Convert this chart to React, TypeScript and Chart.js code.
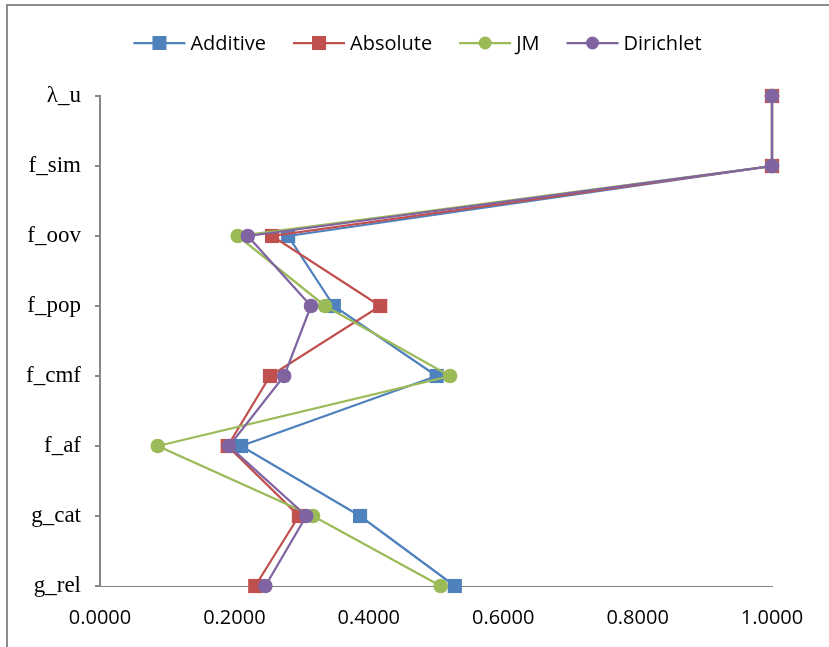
import React, { useEffect, useRef } from 'react';
import { Chart, registerables } from 'chart.js';

Chart.register(...registerables);

const categories = ['λ_u', 'f_sim', 'f_oov', 'f_pop', 'f_cmf', 'f_af', 'g_cat', 'g_rel'];
const additive = [1.0, 1.0, 0.28, 0.348, 0.501, 0.21, 0.387, 0.528];
const absolute = [1.0, 1.0, 0.256, 0.417, 0.253, 0.19, 0.296, 0.231];
const jm = [1.0, 1.0, 0.205, 0.335, 0.521, 0.086, 0.317, 0.507];
const dirichlet = [1.0, 1.0, 0.22, 0.314, 0.274, 0.192, 0.307, 0.246];
const xTicks = [0, 0.2, 0.4, 0.6, 0.8, 1.0];

const seriesNames = ['Additive', 'Absolute', 'JM', 'Dirichlet'];
const seriesColors = ['#4F81BD', '#C0504D', '#9BBB59', '#8064A2'];
const seriesShapes = ['rect', 'rect', 'circle', 'circle'];

const LEGEND_FONT = "20px 'Open Sans'";

const legendPlugin = {
  id: 'excelLegend',
  afterDraw(chart: any) {
    const ctx = chart.ctx;
    ctx.save();
    ctx.font = LEGEND_FONT;
    const lineLen = 52;
    const textGap = 5;
    const itemGap = 27;
    const datasets = chart.data.datasets;
    const widths = datasets.map((d: any) => ctx.measureText(d.label).width);
    let total = 0;
    widths.forEach((w: number, i: number) => {
      total += lineLen + textGap + w + (i < widths.length - 1 ? itemGap : 0);
    });
    let x = 417.5 - total / 2;
    const y = 43;
    datasets.forEach((d: any, i: number) => {
      const color = d.borderColor;
      ctx.strokeStyle = color;
      ctx.lineWidth = 2.25;
      ctx.beginPath();
      ctx.moveTo(x, y);
      ctx.lineTo(x + lineLen, y);
      ctx.stroke();
      ctx.fillStyle = color;
      const cx = x + lineLen / 2;
      if (d.pointStyle === 'rect') {
        ctx.fillRect(cx - 7, y - 7, 14, 14);
      } else {
        ctx.beginPath();
        ctx.arc(cx, y, 6.5, 0, Math.PI * 2);
        ctx.fill();
      }
      ctx.fillStyle = '#000';
      ctx.textBaseline = 'middle';
      ctx.textAlign = 'left';
      ctx.fillText(d.label, x + lineLen + textGap, y + 1);
      x += lineLen + textGap + widths[i] + itemGap;
    });
    ctx.restore();
  },
};

export default function App() {
  const canvasRef = useRef<HTMLCanvasElement | null>(null);

  useEffect(() => {
    const canvas = canvasRef.current;
    if (!canvas) return;
    const values = [additive, absolute, jm, dirichlet];
    const chart = new Chart(canvas, {
      type: 'line',
      data: {
        labels: categories,
        datasets: values.map((vals, i) => ({
          label: seriesNames[i],
          data: vals,
          borderColor: seriesColors[i],
          backgroundColor: seriesColors[i],
          borderWidth: 2.25,
          pointStyle: seriesShapes[i],
          pointRadius: seriesShapes[i] === 'rect' ? 10 : 7.3,
          pointBorderWidth: 0,
          pointBackgroundColor: seriesColors[i],
          pointBorderColor: seriesColors[i],
          tension: 0,
          clip: false,
          order: values.length - 1 - i,
        })),
      },
      options: {
        indexAxis: 'y',
        responsive: false,
        animation: false,
        devicePixelRatio: 1,
        layout: { padding: { top: 96, right: 57, bottom: 0, left: 0 } },
        plugins: {
          legend: { display: false },
          tooltip: { enabled: false },
        },
        scales: {
          x: {
            type: 'linear',
            min: 0,
            max: 1,
            afterBuildTicks: (scale: any) => {
              scale.ticks = xTicks.map((v) => ({ value: v }));
            },
            afterFit: (scale: any) => {
              scale.height = 61;
            },
            grid: { display: false, drawTicks: false },
            border: { display: true, color: '#7f7f7f', width: 1, dash: [1, 2] },
            ticks: {
              color: '#000',
              padding: 20,
              maxRotation: 0,
              font: { family: "'Open Sans'", size: 20 },
              callback: (v: any) => Number(v).toFixed(4),
            },
          },
          y: {
            type: 'category',
            offset: false,
            afterFit: (scale: any) => {
              scale.width = 100;
            },
            grid: {
              display: true,
              drawOnChartArea: false,
              drawTicks: true,
              tickLength: 5,
              color: '#868686',
              lineWidth: 2,
            },
            border: { display: true, color: '#868686', width: 2 },
            ticks: {
              color: '#000',
              padding: 14,
              font: { family: "'Liberation Serif'", size: 23 },
            },
          },
        },
      },
      plugins: [legendPlugin],
    } as any);
    return () => chart.destroy();
  }, []);

  return (
    <div style={{ position: 'fixed', left: 0, top: 0, width: 829, height: 647, background: '#fff', overflow: 'hidden' }}>
      <div
        style={{
          position: 'absolute',
          left: 6,
          top: 4,
          width: 900,
          height: 800,
          border: '2px solid #8c8c8c',
          boxSizing: 'border-box',
        }}
      />
      <canvas ref={canvasRef} width={829} height={647} style={{ position: 'absolute', left: 0, top: 0 }} />
    </div>
  );
}
